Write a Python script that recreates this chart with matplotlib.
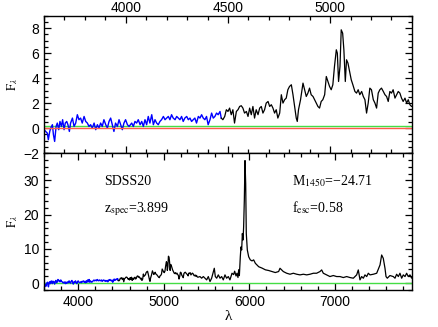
import matplotlib
matplotlib.use("Agg")
import matplotlib.pyplot as plt
from matplotlib.ticker import MultipleLocator

plt.rcParams['font.family'] = ['Liberation Sans', 'DejaVu Sans']
plt.rcParams['mathtext.fontset'] = 'stix'

# blue part of the spectrum (observed wavelength, flux)
blue_wave = [3600, 3608, 3616, 3621, 3628, 3633, 3641, 3646, 3652, 3659, 3665, 3672,
             3678, 3685, 3691, 3698, 3704, 3711, 3717, 3724, 3730, 3739, 3747, 3755,
             3763, 3771, 3779, 3787, 3796, 3804, 3812, 3820, 3828, 3836, 3845, 3853,
             3861, 3869, 3877, 3885, 3893, 3902, 3910, 3918, 3926, 3934, 3942, 3950,
             3959, 3967, 3975, 3983, 3991, 3999, 4008, 4016,
             4029, 4037, 4045, 4053, 4061, 4070, 4078, 4086, 4094, 4102, 4110, 4118,
             4127, 4135, 4143, 4151, 4159, 4167, 4175, 4184, 4192, 4200, 4208, 4216,
             4224, 4232, 4241, 4249, 4257, 4265, 4273, 4281, 4289, 4298, 4306, 4314,
             4322, 4330, 4338, 4346, 4355, 4363, 4371, 4379, 4387, 4395, 4403, 4412,
             4420, 4428, 4436, 4444, 4452, 4461, 4467]
blue_flux = [-0.13, -0.27, -0.4, -0.93, -0.27, 0.0, 0.27, -0.53, -1.07, 0.13, 0.4, -0.13,
             0.53, 0.13, 0.67, -0.13, 0.4, 0.53, 0.27, -0.27, 0.4, 0.8, 0.13, 0.4,
             1.07, 0.67, 0.8, 0.4, 0.93, 0.53, 0.4, 0.13, 0.27, 0.0, 0.4, -0.13,
             0.27, 0.0, 0.4, 0.13, 0.67, 0.27, 0.0, 0.53, 0.8, 0.27, -0.27, 0.4,
             0.13, 0.67, 0.27, -0.13, 0.4, 0.67, 0.27, 0.13,
             0.4, 0.13, 0.53, 0.4, 0.67, 0.27, 0.53, 0.13, 0.67, 0.27, 0.93, 0.4,
             1.07, 0.27, 0.67, 0.4, 0.27, 0.53, 0.67, 0.93, 0.67, 0.8, 0.93, 0.67,
             1.07, 0.8, 0.67, 0.93, 0.8, 0.67, 0.93, 0.53, 0.8, 0.93, 0.67, 0.8,
             0.53, 0.67, 0.8, 0.4, 0.93, 0.8, 1.07, 0.8, 0.67, 0.93, 0.27, 0.67,
             1.2, 0.8, 0.93, 1.2, 1.07, 1.33, 0.8]

# black part of the spectrum
black_wave = [4467, 4475, 4484, 4492, 4500, 4508, 4516, 4524, 4532, 4541, 4549, 4557,
              4565, 4573, 4581, 4590, 4598, 4606, 4614, 4622, 4630, 4638, 4647, 4655,
              4663, 4671, 4679, 4687, 4696, 4704, 4712, 4720, 4728, 4736, 4744, 4753,
              4761, 4769, 4777, 4785, 4793, 4801, 4810, 4818, 4826, 4834, 4839, 4845,
              4855, 4867, 4875, 4883, 4891, 4899, 4907, 4916, 4924, 4932, 4940, 4948,
              4956, 4964, 4973, 4981, 4989, 4997, 5005, 5013, 5021, 5030, 5035, 5041,
              5048, 5054, 5061, 5067, 5074, 5080, 5087, 5095, 5103, 5111,
              5121, 5129, 5137, 5145, 5154, 5162, 5170, 5178, 5186, 5194, 5202, 5211,
              5219, 5227, 5235, 5243, 5251, 5260, 5268, 5276, 5284, 5292, 5300, 5308,
              5317, 5325, 5333, 5341, 5349, 5357, 5366, 5374, 5382, 5390, 5398,
              5423, 5442, 5462, 5481, 5501, 5520, 5540, 5559, 5579, 5590, 5602, 5618,
              5637, 5657, 5676, 5695, 5715, 5734, 5754, 5773, 5797, 5816, 5828, 5844,
              5855, 5867, 5875, 5883, 5894, 5902, 5910, 5918, 5926, 5933, 5941, 5949,
              5957, 5964, 5976, 5992, 6011, 6031, 6050, 6070, 6089, 6109, 6148, 6187,
              6225, 6264, 6303, 6342, 6358, 6377, 6397, 6436, 6475, 6514, 6553, 6592,
              6631, 6670, 6709, 6748, 6786, 6825, 6845, 6864, 6903, 6942, 6981, 7020,
              7059, 7098, 7137, 7176, 7215, 7254, 7273, 7293, 7312, 7332, 7351, 7371,
              7390, 7410, 7449, 7488, 7527, 7546, 7565, 7585, 7597, 7612, 7643, 7682,
              7702, 7721, 7741, 7760, 7780, 7799, 7819, 7838, 7857, 7877, 7897, 7916]
black_flux = [0.8, 0.67, 0.93, 1.47, 1.33, 1.6, 1.07, 1.47, 0.4, 1.33, 1.47, 1.73,
              1.79, 1.6, 1.2, 1.33, 0.93, 1.6, 1.07, 1.73, 0.8, 1.47, 1.07, 1.6,
              1.73, 1.2, 1.47, 2.0, 2.13, 1.73, 1.87, 1.6, 1.2, 1.47, 0.8, 1.2,
              2.67, 2.0, 2.27, 2.4, 3.07, 3.33, 3.47, 2.67, 1.73, 0.8, 0.53, 1.47,
              2.27, 3.6, 3.07, 2.53, 2.8, 3.2, 2.67, 2.53, 2.27, 2.0, 1.73, 1.6,
              2.13, 2.27, 2.67, 4.13, 3.73, 3.33, 3.07, 3.47, 4.93, 6.27, 6.0, 3.73,
              4.93, 7.87, 7.6, 6.27, 3.73, 5.47, 5.2, 4.53, 3.87, 3.47,
              2.93, 2.8, 3.07, 2.67, 2.93, 2.53, 2.27, 1.2, 2.0, 3.2, 3.07, 2.27,
              2.0, 1.6, 2.8, 3.07, 3.2, 2.93, 2.67, 2.53, 2.13, 2.93, 2.8, 3.07,
              2.4, 2.67, 2.93, 2.8, 2.4, 2.13, 2.4, 2.0, 2.27, 1.87, 1.73,
              1.93, 1.45, 1.93, 1.45, 0.96, 1.93, 0.48, 1.45, 3.39, 4.35, 1.93, 1.45,
              2.42, 1.45, 1.93, 0.96, 2.42, 1.45, 1.93, 0.96, 2.9, 2.5, 3.5, 2.1,
              2.9, 1.65, 3.9, 2.2, 7.7, 10.6, 9.7, 14.5, 12.6, 16.5, 24.2, 35.8,
              29.0, 14.5, 9.7, 7.7, 6.8, 6.5, 6.8, 5.8, 5.3, 4.8, 4.4, 3.9,
              3.7, 3.4, 3.1, 3.4, 4.35, 3.87, 3.39, 2.9, 2.61, 2.9, 2.61, 2.42,
              2.61, 2.42, 2.61, 2.9, 2.9, 3.39, 3.87, 2.9, 2.42, 1.93, 2.23, 1.93,
              1.93, 1.64, 1.93, 1.64, 1.45, 2.42, 3.87, 0.96, 1.93, 1.45, 2.42, 1.93,
              2.9, 2.42, 2.61, 2.9, 5.33, 8.23, 7.26, 4.35, 1.93, 1.45, 2.23, 1.93,
              1.45, 2.61, 1.93, 2.9, 1.45, 2.42, 1.93, 2.9, 1.93, 2.42, 1.45, 2.61]

# model / zero lines
green_wave = [3600, 7900]
green_flux = [0.13, 0.13]
red_wave = [3600, 7900]
red_flux = [0.0, 0.0]

name = 'SDSS20'
zspec = '3.899'
m1450 = '\u221224.71'
fesc = '0.58'

fig = plt.figure(figsize=(4.38, 3.27), dpi=100)
ax1 = fig.add_axes([0.1005, 0.532, 0.840, 0.420])
ax2 = fig.add_axes([0.1005, 0.1131, 0.840, 0.4189])

for ax in (ax1, ax2):
    ax.plot(green_wave, green_flux, color='#44dd44', lw=1.0)
    ax.plot(blue_wave, blue_flux, color='#0000ff', lw=1.0)
    ax.plot(black_wave, black_flux, color='black', lw=0.9)
    for s in ax.spines.values():
        s.set_linewidth(1.0)
    ax.tick_params(which='both', direction='in', top=True, right=True,
                   labelsize=10, width=0.9)
    ax.tick_params(which='major', length=5)
    ax.tick_params(which='minor', length=2.8)
ax1.plot(red_wave, red_flux, color='#ff5a4a', lw=1.0)

# top panel: zoom on the blue end
ax1.set_xlim(3600, 5400)
ax1.set_ylim(-2, 9)
ax1.xaxis.set_major_locator(MultipleLocator(500))
ax1.xaxis.set_minor_locator(MultipleLocator(100))
ax1.yaxis.set_major_locator(MultipleLocator(2))
ax1.yaxis.set_minor_locator(MultipleLocator(0.5))
ax1.tick_params(axis='x', labeltop=True, labelbottom=False, pad=0.5)
ax1.set_ylabel(r'$\mathrm{F}_\lambda$', fontsize=9)
ax1.yaxis.set_label_coords(-0.065, 0.5)

# bottom panel: full spectrum
ax2.set_xlim(3600, 7900)
ax2.set_ylim(-2, 38)
ax2.xaxis.set_major_locator(MultipleLocator(1000))
ax2.xaxis.set_minor_locator(MultipleLocator(200))
ax2.yaxis.set_major_locator(MultipleLocator(10))
ax2.yaxis.set_minor_locator(MultipleLocator(2))
ax2.set_ylabel(r'$\mathrm{F}_\lambda$', fontsize=9)
ax2.yaxis.set_label_coords(-0.065, 0.5)
ax2.set_xlabel('\u03bb', fontsize=11, labelpad=1,
               family=['Liberation Serif', 'DejaVu Serif'])

tf = dict(family=['Liberation Serif', 'DejaVu Serif'], fontsize=10, va='baseline')
ax2.text(4305, 28.8, name, **tf)
ax2.text(4305, 20.8, r'z$_{\rm spec}$=' + zspec, **tf)
ax2.text(6500, 28.6, r'M$_{\rm 1450}$=' + m1450, **tf)
ax2.text(6500, 20.8, r'f$_{\rm esc}$=' + fesc, **tf)

fig.savefig('out.png', dpi=100)
